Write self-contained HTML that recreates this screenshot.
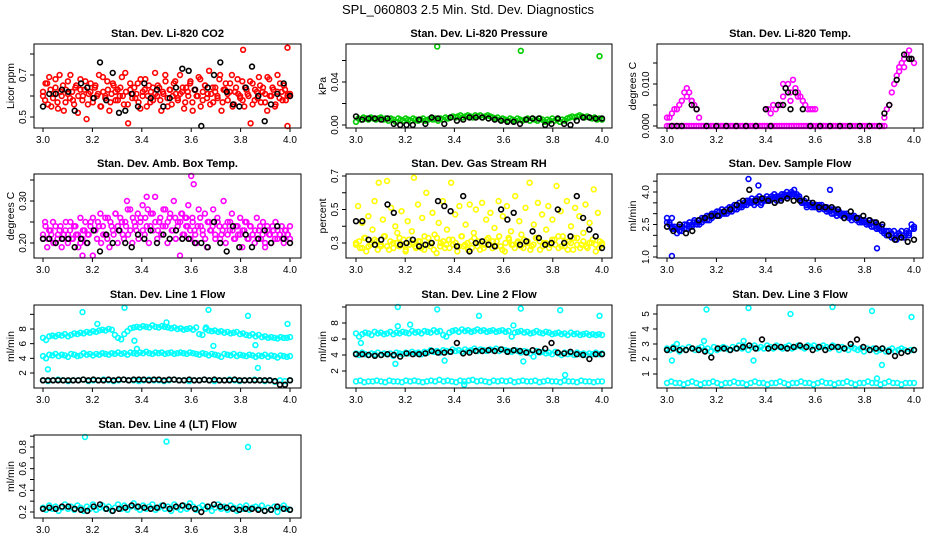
<!DOCTYPE html>
<html><head><meta charset="utf-8"><style>
body{margin:0;background:#fff;}
svg{display:block;font-family:"Liberation Sans",sans-serif;}
</style></head><body>
<svg id="chart" width="936" height="540" viewBox="0 0 936 540" xmlns="http://www.w3.org/2000/svg">
<text x="468" y="14" text-anchor="middle" font-size="13">SPL_060803  2.5 Min. Std. Dev. Diagnostics</text>
</svg>
<script>
// ---- data ----
const xTicks = [3.0,3.2,3.4,3.6,3.8,4.0];
const xTickLabels = ["3.0","3.2","3.4","3.6","3.8","4.0"];
const co2Red = [0.62,0.58,0.66,0.69,0.55,0.61,0.64,0.57,0.70,0.60,0.53,0.63,0.67,0.59,0.62,0.56,0.65,0.60,0.68,0.58,0.63,0.49,0.61,0.66,0.57,0.64,0.60,0.70,0.55,0.62,0.59,0.67,0.53,0.61,0.65,0.58,0.63,0.60,0.69,0.56,0.62,0.47,0.66,0.59,0.64,0.61,0.57,0.68,0.60,0.63,0.55,0.65,0.62,0.58,0.71,0.60,0.64,0.53,0.61,0.67,0.59,0.63,0.56,0.66,0.61,0.58,0.70,0.62,0.54,0.64,0.60,0.67,0.57,0.63,0.60,0.69,0.55,0.62,0.65,0.59,0.72,0.61,0.57,0.64,0.60,0.68,0.53,0.63,0.66,0.58,0.62,0.70,0.56,0.64,0.61,0.59,0.67,0.55,0.63,0.60,0.47,0.66,0.58,0.62,0.69,0.57,0.64,0.61,0.53,0.68,0.60,0.63,0.56,0.70,0.59,0.62,0.65,0.58,0.61,0.60];
const co2Red2 = [0.60,0.66,0.56,0.63,0.59,0.68,0.54,0.62,0.65,0.57,0.61,0.70,0.58,0.64,0.52,0.63,0.60,0.67,0.56,0.62,0.59,0.65,0.61,0.55,0.69,0.60,0.63,0.57,0.66,0.62,0.58,0.64,0.60,0.71,0.56,0.63,0.61,0.59,0.66,0.54,0.62,0.68,0.60,0.57,0.64,0.61,0.65,0.58,0.62,0.70,0.55,0.63,0.60,0.67,0.59,0.61,0.64,0.57,0.62,0.66,0.53,0.63,0.60,0.68,0.58,0.65,0.61,0.56,0.64,0.62,0.59,0.70,0.57,0.63,0.61,0.66,0.55,0.62,0.68,0.60,0.58,0.64,0.61,0.67,0.56,0.63,0.59,0.65,0.62,0.57,0.69,0.60,0.64,0.55,0.62,0.66,0.58,0.63,0.60,0.61];
const co2RedOutX = [3.81,3.99,3.99];
const co2RedOutY = [0.82,0.83,0.45];
const co2Black = [0.55,0.61,0.61,0.63,0.62,0.53,0.66,0.64,0.59,0.76,0.58,0.71,0.52,0.53,0.61,0.55,0.66,0.59,0.63,0.55,0.59,0.64,0.73,0.72,0.63,0.44,0.64,0.70,0.76,0.62,0.56,0.55,0.64,0.74,0.60,0.48,0.56,0.61,0.66,0.60];
const presGreen = [0.003,0.006,0.005,0.007,0.006,0.005,0.007,0.006,0.005,0.006,0.007,0.005,0.006,0.004,0.006,0.005,0.003,0.006,0.005,0.004,0.006,0.005,0.004,0.006,0.005,0.004,0.005,0.006,0.004,0.005,0.006,0.005,0.006,0.004,0.006,0.005,0.007,0.006,0.007,0.008,0.007,0.008,0.009,0.007,0.008,0.009,0.008,0.007,0.009,0.008,0.009,0.007,0.008,0.009,0.008,0.007,0.006,0.007,0.005,0.006,0.005,0.004,0.006,0.005,0.004,0.006,0.005,0.004,0.005,0.006,0.004,0.006,0.005,0.004,0.006,0.005,0.003,0.005,0.004,0.006,0.004,0.005,0.003,0.005,0.004,0.006,0.007,0.008,0.007,0.008,0.009,0.008,0.007,0.008,0.007,0.006,0.007,0.005,0.006,0.005];
const presGreenOutX = [3.33,3.67,3.99];
const presGreenOutY = [0.073,0.069,0.064];
const presBlack = [0.008,0.005,0.006,0.006,0.005,0.006,0.001,0.000,0.000,0.000,0.005,0.001,0.007,0.006,0.001,0.007,0.004,0.005,0.007,0.007,0.007,0.006,0.005,0.004,0.003,0.003,0.001,0.005,0.006,0.006,0.000,0.001,0.006,0.001,0.000,0.004,0.007,0.007,0.006,0.006];
const tempPinkX = [3.0,3.01,3.02,3.03,3.04,3.05,3.06,3.07,3.08,3.09,3.10,3.11,3.12,3.13,3.40,3.41,3.42,3.43,3.44,3.45,3.46,3.47,3.48,3.49,3.50,3.51,3.52,3.53,3.54,3.55,3.56,3.57,3.58,3.59,3.60,3.88,3.89,3.90,3.91,3.92,3.93,3.94,3.95,3.96,3.97,3.98,3.99,4.0,3.47,3.50,3.53,3.08,3.10,3.94,3.96];
const tempPinkY = [0.002,0.002,0.003,0.004,0.004,0.005,0.006,0.008,0.009,0.008,0.006,0.005,0.004,0.002,0.004,0.004,0.003,0.005,0.004,0.005,0.005,0.010,0.009,0.010,0.008,0.011,0.009,0.008,0.007,0.006,0.005,0.004,0.004,0.004,0.004,0.002,0.004,0.005,0.008,0.010,0.012,0.014,0.015,0.016,0.017,0.018,0.016,0.015,0.007,0.006,0.007,0.007,0.006,0.013,0.014];
const tempBaseline = [0,0,0,0,0,0,0,0,0,0,0,0,0,0,0,0,0,0,0,0,0,0,0,0,0,0,0,0,0,0,0,0,0,0,0,0,0,0,0,0,0,0,0,0,0,0,0,0,0,0,0,0,0,0,0,0,0,0,0,0,0,0,0,0,0,0,0,0,0,0,0,0,0,0,0,0,0,0,0,0,0,0,0,0,0,0,0,0,0,0];
const tempBlackX = [3.02,3.04,3.06,3.10,3.12,3.16,3.20,3.24,3.28,3.32,3.36,3.40,3.42,3.45,3.47,3.48,3.49,3.50,3.52,3.55,3.58,3.62,3.66,3.70,3.74,3.78,3.82,3.86,3.88,3.90,3.93,3.96,3.98,3.99];
const tempBlackY = [0,0,0,0.005,0.004,0,0,0,0,0,0,0.004,0,0.005,0.005,0.009,0.008,0.004,0.008,0.004,0,0,0,0,0,0,0,0,0.003,0.005,0.011,0.017,0.016,0.016];
const ambMagenta = [0.21,0.25,0.19,0.23,0.22,0.20,0.24,0.21,0.23,0.19,0.22,0.25,0.20,0.23,0.21,0.24,0.22,0.19,0.26,0.21,0.23,0.20,0.22,0.25,0.17,0.23,0.21,0.24,0.20,0.22,0.26,0.21,0.19,0.24,0.22,0.27,0.20,0.23,0.25,0.21,0.24,0.22,0.28,0.20,0.25,0.23,0.21,0.26,0.29,0.22,0.24,0.20,0.27,0.23,0.31,0.21,0.25,0.22,0.28,0.24,0.20,0.26,0.23,0.30,0.21,0.25,0.17,0.27,0.22,0.24,0.29,0.21,0.26,0.23,0.20,0.28,0.24,0.22,0.27,0.19,0.25,0.23,0.28,0.21,0.26,0.24,0.22,0.30,0.20,0.25,0.23,0.27,0.21,0.24,0.22,0.26,0.19,0.23,0.25,0.21,0.24,0.22,0.20,0.26,0.23,0.21,0.25,0.19,0.24,0.22,0.20,0.23,0.25,0.21,0.22,0.24,0.20,0.23,0.22,0.21];
const ambMagenta2 = [0.22,0.24,0.21,0.23,0.25,0.20,0.22,0.24,0.21,0.23,0.22,0.25,0.21,0.24,0.22,0.20,0.23,0.25,0.22,0.24,0.26,0.23,0.25,0.27,0.24,0.22,0.26,0.25,0.23,0.27,0.24,0.26,0.22,0.25,0.28,0.23,0.26,0.24,0.27,0.25,0.23,0.26,0.28,0.24,0.27,0.25,0.23,0.26,0.24,0.28,0.25,0.27,0.23,0.26,0.24,0.25,0.22,0.26,0.24,0.23,0.25,0.22,0.24,0.26,0.23,0.21,0.25,0.23,0.24,0.22,0.25,0.21,0.23,0.24,0.22,0.25,0.23,0.21,0.24,0.22,0.23,0.25,0.21,0.24,0.22,0.23,0.21,0.24,0.22,0.20,0.23,0.22,0.24,0.21,0.23,0.22,0.21,0.23,0.22,0.24];
const ambMagentaOutX = [3.60,3.61,3.42,3.34,3.16,3.56,3.58];
const ambMagentaOutY = [0.36,0.34,0.31,0.30,0.17,0.27,0.26];
const ambBlack = [0.21,0.21,0.20,0.21,0.21,0.19,0.21,0.20,0.23,0.18,0.22,0.20,0.23,0.20,0.19,0.22,0.21,0.23,0.20,0.22,0.21,0.23,0.21,0.21,0.20,0.20,0.19,0.25,0.20,0.18,0.24,0.19,0.22,0.19,0.21,0.23,0.20,0.24,0.21,0.20];
const rhYellow = [0.30,0.52,0.27,0.42,0.33,0.25,0.46,0.29,0.38,0.55,0.31,0.66,0.28,0.44,0.34,0.67,0.26,0.51,0.30,0.40,0.36,0.28,0.49,0.32,0.25,0.43,0.29,0.37,0.69,0.27,0.53,0.31,0.45,0.26,0.60,0.33,0.28,0.48,0.35,0.24,0.42,0.30,0.55,0.27,0.38,0.32,0.66,0.29,0.47,0.25,0.52,0.34,0.28,0.41,0.30,0.53,0.27,0.36,0.50,0.31,0.26,0.54,0.29,0.44,0.33,0.48,0.27,0.39,0.31,0.55,0.28,0.46,0.25,0.52,0.32,0.37,0.29,0.58,0.30,0.43,0.35,0.27,0.51,0.31,0.66,0.28,0.41,0.33,0.54,0.26,0.47,0.30,0.38,0.52,0.29,0.44,0.32,0.64,0.27,0.49,0.34,0.28,0.55,0.31,0.40,0.26,0.51,0.33,0.46,0.29,0.36,0.53,0.27,0.42,0.30,0.62,0.25,0.48,0.31,0.29];
const rhYellowLow = [0.29,0.31,0.27,0.33,0.28,0.30,0.32,0.26,0.29,0.34,0.28,0.31,0.27,0.30,0.33,0.29,0.26,0.32,0.30,0.28,0.31,0.27,0.34,0.29,0.30,0.26,0.33,0.28,0.31,0.29,0.27,0.32,0.30,0.28,0.34,0.29,0.26,0.31,0.33,0.28,0.30,0.27,0.32,0.29,0.31,0.28,0.34,0.26,0.30,0.33,0.29,0.27,0.31,0.28,0.32,0.30,0.26,0.29,0.33,0.31,0.28,0.30,0.27,0.32,0.29,0.34,0.28,0.31,0.26,0.30,0.33,0.29,0.27,0.31,0.28,0.30,0.32,0.29,0.27,0.30];
const rhBlack = [0.43,0.43,0.32,0.29,0.32,0.53,0.48,0.29,0.30,0.32,0.28,0.29,0.30,0.55,0.52,0.49,0.28,0.58,0.25,0.30,0.31,0.29,0.28,0.50,0.44,0.48,0.29,0.31,0.37,0.33,0.29,0.30,0.50,0.30,0.34,0.58,0.45,0.38,0.34,0.27];
const flowBlueA = [2.6,2.5,2.4,2.3,2.3,2.2,2.4,2.3,2.5,2.4,2.5,2.6,2.5,2.7,2.6,2.8,2.7,2.9,2.8,3.0,2.9,3.1,3.0,3.1,3.2,3.1,3.3,3.2,3.4,3.3,3.4,3.5,3.4,3.6,3.5,3.6,3.7,3.6,3.5,3.7,3.6,3.7,3.8,3.7,3.6,3.8,3.7,3.9,3.8,3.9,4.0,3.9,3.8,3.7,3.6,3.5,3.4,3.5,3.3,3.4,3.3,3.4,3.3,3.2,3.3,3.1,3.2,3.0,3.1,3.0,2.9,3.0,2.9,2.8,2.9,2.8,2.7,2.8,2.6,2.7,2.6,2.5,2.6,2.4,2.5,2.3,2.2,2.1,2.2,2.0,2.1,1.9,2.0,2.1,1.9,2.0,2.2,2.1,2.3,2.4];
const flowBlueB = [2.8,2.6,2.3,2.4,2.1,2.4,2.2,2.5,2.3,2.6,2.4,2.7,2.6,2.5,2.8,2.7,2.9,2.7,3.0,2.9,3.1,2.9,3.2,3.0,3.0,3.3,3.1,3.4,3.2,3.5,3.3,3.4,3.6,3.5,3.7,3.4,3.5,3.8,3.7,3.6,3.8,3.6,3.7,3.9,3.8,3.7,3.9,3.8,4.0,3.8,3.9,4.1,3.9,3.8,3.5,3.6,3.3,3.4,3.4,3.3,3.4,3.2,3.4,3.3,3.1,3.2,3.0,3.2,2.9,3.1,3.0,2.8,3.0,2.9,2.7,2.9,2.8,2.6,2.7,2.6,2.5,2.7,2.4,2.6,2.3,2.4,2.4,2.2,2.0,2.2,1.9,2.2,1.8,2.0,2.2,1.9,2.1,2.0,2.5,2.3];
const flowBlueOutX = [3.02,3.33,3.37,3.66,3.85,3.02,3.38];
const flowBlueOutY = [1.0,4.6,4.3,4.1,1.4,2.8,3.4];
const flowBlack = [2.4,2.2,2.5,2.1,2.2,2.7,2.8,2.9,2.9,3.1,3.2,3.4,3.6,4.1,3.6,3.7,3.6,3.5,3.6,3.7,3.6,3.6,3.7,3.5,3.3,3.3,3.3,3.2,2.8,3.1,2.8,2.9,2.7,2.6,2.5,2.0,1.8,1.9,1.7,1.8];
const l1Upper = [6.8,6.5,7.0,7.1,7.0,7.2,7.1,7.3,7.0,7.2,7.4,7.3,7.5,7.4,7.6,7.5,7.7,7.6,7.8,7.9,7.8,8.0,7.9,7.2,6.8,6.6,7.3,7.7,8.1,8.2,8.3,8.2,8.4,8.3,8.2,8.5,8.3,8.2,8.4,8.3,8.2,8.1,8.2,8.0,8.1,7.9,8.0,8.1,7.9,8.2,7.3,7.2,8.0,7.8,7.7,7.8,7.6,7.7,7.5,7.6,7.4,7.5,7.6,7.3,7.4,7.2,7.1,7.3,7.0,7.2,6.9,7.0,6.8,6.9,6.8,6.7,6.9,6.8,6.8,6.9];
const l1Mid = [4.3,4.0,4.5,4.4,4.6,4.3,4.5,4.4,4.2,4.6,4.5,4.3,4.4,4.7,4.5,4.6,4.4,4.6,4.5,4.7,4.6,4.5,4.7,4.6,4.8,4.6,4.7,4.5,4.8,4.7,4.6,4.8,4.7,4.9,4.7,4.6,4.8,4.7,4.8,4.6,4.7,4.8,4.6,4.7,4.8,4.7,4.6,4.8,4.7,4.6,4.5,4.7,4.6,4.4,4.6,4.5,4.4,4.2,4.6,4.5,4.4,4.6,4.3,4.5,4.4,4.3,4.5,4.4,4.2,4.4,4.3,4.5,4.2,4.4,4.3,4.1,4.4,4.3,4.2,4.3];
const l1Low = [1.0,0.9,1.0,1.1,1.0,0.9,1.0,1.0,1.1,0.9,1.0,1.0,1.1,1.0,0.9,1.0,1.1,1.0,1.0,0.9,1.0,1.1,1.0,1.0,0.9,1.0,1.1,1.0,1.0,0.9,1.0,1.0,1.1,1.0,0.9,1.0,1.0,1.1,1.0,0.9,1.0,1.0,1.1,1.0,0.9,1.0,0.8,1.0,0.9,1.0];
const l1Black = [1.0,1.0,1.0,1.0,1.0,1.0,1.0,1.0,1.1,1.0,1.1,1.0,1.0,1.1,1.0,1.1,1.1,1.0,1.1,1.1,1.1,1.0,1.1,1.1,1.0,1.1,1.1,1.0,1.0,1.1,1.0,1.0,1.1,1.0,1.1,1.0,1.0,1.0,1.1,1.0,1.0,1.0,1.0,1.0,1.0,1.0,0.9,0.4,0.4,1.0];
const l1OutX = [3.02,3.16,3.22,3.33,3.37,3.38,3.50,3.66,3.67,3.69,3.83,3.86,3.87,3.99];
const l1OutY = [2.5,10.3,8.7,10.9,6.4,5.3,8.9,8.2,10.6,5.7,9.8,5.8,2.7,8.7];
const l2Upper = [6.7,6.3,6.6,6.8,6.7,6.5,6.9,6.7,6.8,6.6,6.7,6.9,6.6,6.8,6.7,6.9,6.8,6.7,7.0,6.8,6.9,6.7,7.0,6.9,6.8,7.1,6.9,7.0,6.5,6.3,6.8,7.0,7.1,6.9,7.2,7.0,7.1,6.9,7.0,7.2,7.0,7.1,6.9,7.0,7.1,6.9,7.0,7.1,6.9,7.0,6.3,6.8,6.9,7.0,6.8,6.9,6.7,6.8,7.0,6.8,6.7,6.9,6.8,6.6,6.7,6.8,6.6,6.7,6.5,6.8,6.6,6.7,6.5,6.6,6.7,6.5,6.6,6.5,6.6,6.5];
const l2Mid = [4.2,4.0,4.3,4.1,4.0,4.2,4.1,4.3,4.0,4.2,4.1,4.2,3.9,4.3,4.2,4.1,4.3,4.2,4.4,4.2,4.3,4.1,4.4,4.3,4.6,4.4,4.5,4.3,4.6,4.5,4.4,4.7,4.5,4.6,4.4,4.7,4.5,4.6,4.8,4.5,4.7,4.6,4.5,4.7,4.6,4.8,4.5,4.7,4.6,4.5,4.4,4.6,4.5,4.3,4.5,4.4,4.2,3.8,4.5,4.3,4.4,4.2,4.3,4.1,4.4,4.2,4.0,4.3,4.1,4.2,4.0,4.3,4.1,4.2,4.0,4.2,4.1,4.3,4.1,4.2];
const l2Low = [0.7,0.8,0.6,0.7,0.7,0.8,0.7,0.6,0.8,0.7,0.7,0.6,0.8,0.7,0.8,0.7,0.6,0.7,0.8,0.7,0.9,0.7,0.8,0.7,0.6,0.8,0.7,0.8,0.9,0.7,0.8,0.7,0.6,0.8,0.7,0.8,0.7,0.8,0.6,0.7,0.8,0.7,0.7,0.8,0.6,0.7,0.8,0.7,0.7,0.6,0.8,0.7,0.7,0.6,0.8,0.7,0.7,0.6,0.7,0.7];
const l2Black = [4.1,4.1,4.0,3.9,4.0,4.1,4.0,3.8,4.2,4.1,4.1,4.2,4.5,4.3,4.3,4.4,5.5,4.2,4.3,4.5,4.5,4.6,4.5,4.7,4.4,4.6,4.5,4.3,4.6,4.4,4.8,5.5,4.3,4.2,4.4,4.1,4.0,3.5,4.1,4.1];
const l2OutX = [3.02,3.17,3.17,3.22,3.33,3.36,3.50,3.64,3.67,3.83,3.85,3.99,3.44,3.68,3.16];
const l2OutY = [5.5,10.0,7.6,7.8,9.7,3.3,8.9,7.7,9.8,9.6,1.5,8.9,0.3,3.2,2.9];
const l3Upper = [2.7,2.6,2.8,2.7,2.5,2.7,2.6,2.8,2.7,2.6,2.7,2.8,2.6,2.7,2.5,2.8,2.6,2.7,2.8,2.7,2.6,2.8,2.7,2.9,2.7,2.8,2.6,2.8,2.9,2.7,2.8,2.7,2.9,2.8,2.7,2.9,2.8,2.7,2.8,2.9,2.7,2.8,2.9,2.8,2.7,2.9,2.8,2.9,2.7,2.8,2.9,2.8,2.7,2.9,2.8,2.6,2.8,2.7,2.6,2.8,2.7,2.6,2.7,2.5,2.7,2.6,2.7,2.5,2.6,2.7,2.5,2.6,2.7,2.5,2.6,2.7,2.6,2.5,2.6,2.6];
const l3Low = [0.4,0.5,0.4,0.4,0.3,0.4,0.5,0.4,0.3,0.4,0.4,0.5,0.4,0.3,0.4,0.4,0.5,0.4,0.4,0.3,0.4,0.5,0.4,0.4,0.3,0.4,0.4,0.5,0.4,0.3,0.4,0.4,0.5,0.4,0.4,0.3,0.4,0.5,0.4,0.4,0.3,0.4,0.4,0.5,0.4,0.3,0.4,0.4,0.5,0.4,0.4,0.3,0.4,0.5,0.4,0.4,0.3,0.4,0.4,0.4];
const l3Black = [2.6,2.7,2.6,2.6,2.7,2.6,2.5,2.1,2.7,2.7,2.6,2.7,2.8,2.9,2.7,3.3,2.7,2.8,2.8,2.7,2.8,2.9,2.8,2.6,2.8,2.6,2.8,2.8,2.7,3.0,3.3,2.8,2.6,2.7,2.7,2.5,2.2,2.4,2.5,2.6];
const l3OutX = [3.02,3.04,3.15,3.16,3.31,3.33,3.35,3.50,3.67,3.83,3.85,3.87,3.99];
const l3OutY = [1.9,3.0,3.2,5.3,3.2,5.4,1.9,5.0,5.5,5.2,0.7,1.6,4.8];
const l4Cyan = [0.24,0.22,0.26,0.23,0.25,0.21,0.24,0.27,0.23,0.25,0.22,0.26,0.24,0.21,0.25,0.23,0.27,0.22,0.24,0.26,0.23,0.25,0.21,0.24,0.27,0.23,0.26,0.22,0.25,0.28,0.24,0.22,0.26,0.23,0.25,0.27,0.22,0.24,0.26,0.23,0.25,0.21,0.27,0.24,0.22,0.26,0.23,0.28,0.25,0.22,0.24,0.26,0.23,0.25,0.21,0.24,0.27,0.23,0.25,0.22,0.26,0.24,0.21,0.25,0.23,0.26,0.22,0.24,0.25,0.23,0.26,0.21,0.24,0.22,0.25,0.20,0.24,0.26,0.23,0.22];
const l4Black = [0.23,0.24,0.23,0.25,0.25,0.23,0.22,0.21,0.25,0.27,0.23,0.21,0.23,0.24,0.26,0.25,0.24,0.23,0.24,0.26,0.23,0.25,0.26,0.25,0.23,0.20,0.25,0.27,0.25,0.24,0.23,0.22,0.23,0.23,0.22,0.21,0.22,0.25,0.23,0.22];
const l4OutX = [3.17,3.50,3.83];
const l4OutY = [0.93,0.85,0.80];

// ---- layout ----
const svg = document.getElementById('chart');
const NS = 'http://www.w3.org/2000/svg';
const cols = [{x3:43,x4:290,l:34,r:301,yl:10},{x3:356,x4:602,l:346,r:612,yl:322},{x3:667,x4:914,l:657,r:923,yl:632}];
const rows = [{t:44,b:128},{t:174,b:258},{t:305,b:388},{t:435,b:518}];
function mk(tag, attrs){const e=document.createElementNS(NS,tag);for(const k in attrs)e.setAttribute(k,attrs[k]);return e;}
function indexX(vals){const n=vals.length;return vals.map((v,i)=>3+i/(n-1));}

function panel(key, col, row, title, ylab, yref, yticks, ylabels, series){
  const c=cols[col], r=rows[row];
  const g=mk('g',{});
  
  
  svg.appendChild(g);
  const xs=v=>c.x3+(v-3)*(c.x4-c.x3);
  const ys=v=>yref[1]+(v-yref[0])*(yref[3]-yref[1])/(yref[2]-yref[0]);
  const t=mk('text',{x:(c.l+c.r)/2,y:r.t-7,'text-anchor':'middle','font-size':'11','font-weight':'bold'});
  t.textContent=title;
  
  
  g.appendChild(t);
  series.forEach(s=>{
    const sg=mk('g',{fill:'none',stroke:s.color,'stroke-width':'1.6'});
    
    
    g.appendChild(sg);
    const xv = s.x ? s.x : (s.range ? s.y.map((v,i)=>s.range[0]+i/(s.y.length-1)*(s.range[1]-s.range[0])) : indexX(s.y));
    s.y.forEach((v,i)=>{
      const cy=Math.max(r.t+2,Math.min(r.b-2,ys(v)));
      const p=mk('circle',{cx:xs(xv[i]).toFixed(1),cy:cy.toFixed(1),r:'2.4'});
      
      
      sg.appendChild(p);
    });
  });
  const box=mk('rect',{x:c.l,y:r.t,width:c.r-c.l,height:r.b-r.t,fill:'none',stroke:'#000','stroke-width':'1'});
  
  
  g.appendChild(box);
  xTicks.forEach((v,i)=>{
    g.appendChild(mk('line',{x1:xs(v),x2:xs(v),y1:r.b,y2:r.b+4,stroke:'#000'}));
    const tl=mk('text',{x:xs(v),y:r.b+15,'text-anchor':'middle','font-size':'10'});
    tl.textContent=xTickLabels[i];
    
    
    g.appendChild(tl);
  });
  yticks.forEach(v=>{g.appendChild(mk('line',{x1:c.l-4,x2:c.l,y1:ys(v),y2:ys(v),stroke:'#000'}));});
  ylabels.forEach(l=>{
    const yy=ys(parseFloat(l));
    const tl=mk('text',{x:0,y:0,'text-anchor':'middle','font-size':'10',transform:`translate(${c.l-8},${yy}) rotate(-90)`});
    tl.textContent=l;
    
    
    g.appendChild(tl);
  });
  const yt=mk('text',{x:0,y:0,'text-anchor':'middle','font-size':'10.5',transform:`translate(${c.yl+4},${(r.t+r.b)/2}) rotate(-90)`});
  yt.textContent=ylab;
  
  
  g.appendChild(yt);
}

const RED='#ff0000',GRN='#00cc00',MAG='#ff00ff',YEL='#ffff00',BLU='#0000ff',CYA='#00ffff',BLK='#000000';
panel('co2',0,0,'Stan. Dev. Li-820 CO2','Licor ppm',[0.5,117,0.7,75],[0.5,0.6,0.7,0.8],['0.5','0.7'],[
  {name:'red-series',color:RED,y:co2Red},{name:'red-series-2',color:RED,y:co2Red2},{name:'red-outliers',color:RED,x:co2RedOutX,y:co2RedOutY},{name:'black-series',color:BLK,y:co2Black}]);
panel('pressure',1,0,'Stan. Dev. Li-820 Pressure','kPa',[0,125,0.04,82],[0,0.02,0.04,0.06],['0.00','0.04'],[
  {name:'green-series',color:GRN,y:presGreen},{name:'green-outliers',color:GRN,x:presGreenOutX,y:presGreenOutY},{name:'black-series',color:BLK,y:presBlack}]);
panel('temp',2,0,'Stan. Dev. Li-820 Temp.','degrees C',[0,126,0.01,84],[0,0.005,0.01,0.015],['0.000','0.010'],[
  {name:'pink-baseline',color:MAG,range:[3.0,3.88],y:tempBaseline},{name:'pink-series',color:MAG,x:tempPinkX,y:tempPinkY},{name:'black-series',color:BLK,x:tempBlackX,y:tempBlackY}]);
panel('amb-box-temp',0,1,'Stan. Dev. Amb. Box Temp.','degrees C',[0.2,243,0.3,201],[0.2,0.25,0.3,0.35],['0.20','0.30'],[
  {name:'magenta-series',color:MAG,y:ambMagenta},{name:'magenta-series-2',color:MAG,y:ambMagenta2},{name:'magenta-outliers',color:MAG,x:ambMagentaOutX,y:ambMagentaOutY},{name:'black-series',color:BLK,y:ambBlack}]);
panel('gas-rh',1,1,'Stan. Dev. Gas Stream RH','percent',[0.3,243,0.7,176],[0.3,0.4,0.5,0.6,0.7],['0.3','0.5','0.7'],[
  {name:'yellow-series',color:YEL,y:rhYellow},{name:'yellow-low-series',color:YEL,y:rhYellowLow},{name:'black-series',color:BLK,y:rhBlack}]);
panel('sample-flow',2,1,'Stan. Dev. Sample Flow','ml/min',[4.0,192,1.0,257],[1,1.5,2,2.5,3,3.5,4,4.5],['1.0','2.5','4.0'],[
  {name:'blue-series-a',color:BLU,y:flowBlueA},{name:'blue-series-b',color:BLU,y:flowBlueB},{name:'blue-outliers',color:BLU,x:flowBlueOutX,y:flowBlueOutY},{name:'black-series',color:BLK,y:flowBlack}]);
panel('line1',0,2,'Stan. Dev. Line 1 Flow','ml/min',[2,373,8,329],[2,4,6,8,10],['2','4','6','8'],[
  {name:'cyan-upper',color:CYA,y:l1Upper},{name:'cyan-mid',color:CYA,y:l1Mid},{name:'cyan-low',color:CYA,y:l1Low},{name:'cyan-outliers',color:CYA,x:l1OutX,y:l1OutY},{name:'black-series',color:BLK,y:l1Black}]);
panel('line2',1,2,'Stan. Dev. Line 2 Flow','ml/min',[2,371,8,323],[2,4,6,8,10],['2','4','6','8'],[
  {name:'cyan-upper',color:CYA,y:l2Upper},{name:'cyan-mid',color:CYA,y:l2Mid},{name:'cyan-low',color:CYA,y:l2Low},{name:'cyan-outliers',color:CYA,x:l2OutX,y:l2OutY},{name:'black-series',color:BLK,y:l2Black}]);
panel('line3',2,2,'Stan. Dev. Line 3 Flow','ml/min',[5,314,1,374],[1,2,3,4,5],['1','2','3','4','5'],[
  {name:'cyan-upper',color:CYA,y:l3Upper},{name:'cyan-low',color:CYA,y:l3Low},{name:'cyan-outliers',color:CYA,x:l3OutX,y:l3OutY},{name:'black-series',color:BLK,y:l3Black}]);
panel('line4',0,3,'Stan. Dev. Line 4 (LT) Flow','ml/min',[0.2,512,0.8,447],[0.2,0.3,0.4,0.5,0.6,0.7,0.8,0.9],['0.2','0.4','0.6','0.8'],[
  {name:'cyan-series',color:CYA,y:l4Cyan},{name:'cyan-outliers',color:CYA,x:l4OutX,y:l4OutY},{name:'black-series',color:BLK,y:l4Black}]);
</script>
</body></html>
